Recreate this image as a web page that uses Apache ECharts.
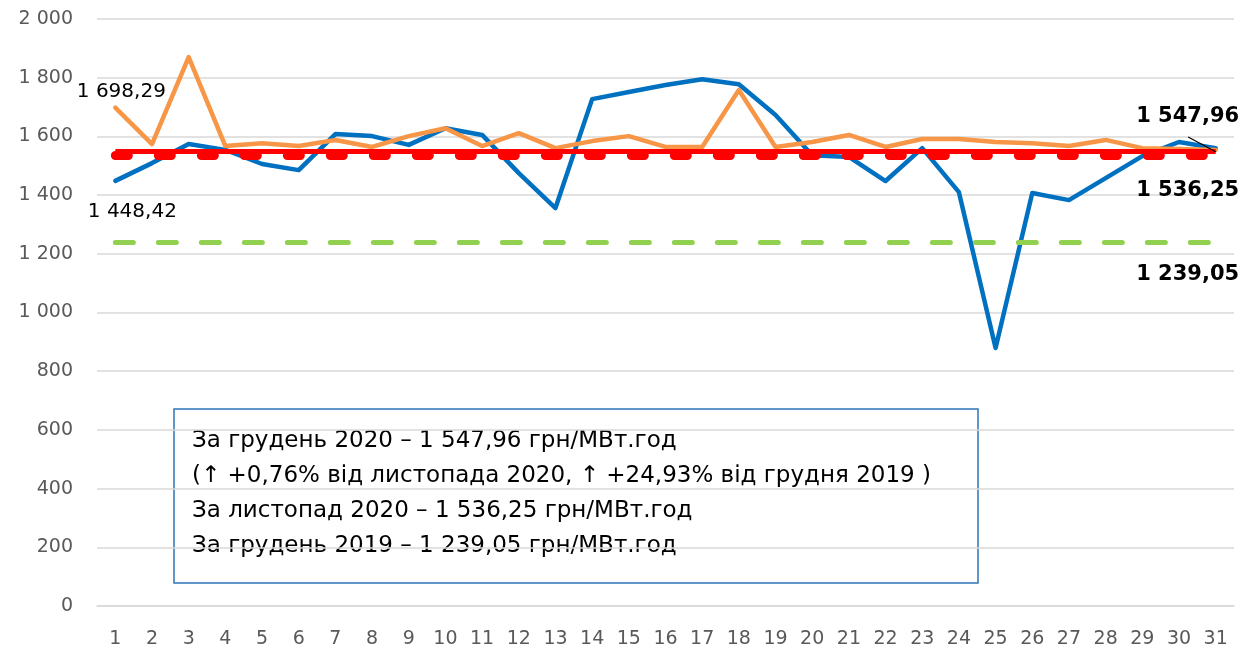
<!DOCTYPE html>
<html>
<head>
<meta charset="utf-8">
<script src="https://cdn.jsdelivr.net/npm/echarts@6/dist/echarts.min.js"></script>
<style>
  html, body { margin: 0; padding: 0; background: #fff; }
  #chart { width: 1247px; height: 652px; }
</style>
</head>
<body>
<div id="chart"></div>
<script>
const days = ['1','2','3','4','5','6','7','8','9','10','11','12','13','14','15','16',
  '17','18','19','20','21','22','23','24','25','26','27','28','29','30','31']

// blue line
const rdn = [1448.42, 1509, 1574, 1554, 1506, 1485, 1608, 1601, 1571, 1628, 1605, 1475,
  1356, 1727, 1751, 1775, 1795, 1778, 1673, 1536, 1530, 1448, 1560, 1410, 879, 1407,
  1383, 1458, 1533, 1581, 1560]

// orange line
const vdr = [1698.29, 1574, 1870, 1567, 1577, 1567, 1588, 1564, 1601, 1628, 1567, 1611,
  1560, 1584, 1601, 1564, 1564, 1758, 1564, 1581, 1605, 1564, 1591, 1591, 1581, 1577,
  1567, 1588, 1560, 1557, 1554]

const avgDec2020 = 1547.96
const avgNov2020 = 1536.25
const avgDec2019 = 1239.05

// short pointer from the "1 547,96" label to the last point
const leader = [[29.25, 1598], [30, 1548]]

const yTicks = { min: 0, max: 2000, interval: 200 }

const boxLines = [
  'За грудень 2020 – 1 547,96 грн/МВт.год',
  '(↑ +0,76% від листопада 2020, ↑ +24,93% від грудня 2019 )',
  'За листопад 2020 – 1 536,25 грн/МВт.год',
  'За грудень 2019 – 1 239,05 грн/МВт.год'
]

const FONT = 'DejaVu Sans'

function fmt(v) {
  const parts = v.toFixed(2).split('.')
  const int = parts[0].replace(/\B(?=(\d{3})+(?!\d))/g, ' ')
  return int + ',' + parts[1]
}

function fmtTick(v) {
  return String(v).replace(/\B(?=(\d{3})+(?!\d))/g, ' ')
}

function firstLabel(arr, labelOpts) {
  return arr.map((v, i) => i === 0 ? { value: v, label: Object.assign({
    show: true, formatter: p => fmt(p.value), color: '#000', fontSize: 20, fontFamily: FONT
  }, labelOpts) } : v)
}

function avgLine(v, style) {
  return [
    { coord: ['1', v], lineStyle: style },
    { coord: ['31', v] }
  ]
}

function avgLabel(v, offset) {
  return {
    coord: ['31', v],
    symbolSize: 0,
    label: {
      show: true, position: 'inside', offset: offset, formatter: fmt(v),
      color: '#000', fontSize: 21, fontWeight: 'bold', fontFamily: FONT
    }
  }
}

const chart = echarts.init(document.getElementById('chart'))

chart.setOption({
  animation: false,
  grid: { left: 97, right: 13, top: 19, bottom: 46 },
  xAxis: [
    {
      type: 'category',
      data: days,
      boundaryGap: true,
      axisLine: { lineStyle: { color: '#D9D9D9', width: 1.5 } },
      axisTick: { show: false },
      axisLabel: { color: '#595959', fontSize: 19, fontFamily: FONT, margin: 24 }
    },
    { type: 'value', min: -0.5, max: 30.5, show: false }
  ],
  yAxis: {
    type: 'value',
    min: yTicks.min,
    max: yTicks.max,
    interval: yTicks.interval,
    axisLine: { show: false },
    axisTick: { show: false },
    splitLine: { lineStyle: { color: '#D9D9D9', width: 1.5 } },
    axisLabel: { color: '#595959', fontSize: 19, fontFamily: FONT, margin: 24, formatter: fmtTick }
  },
  series: [
    {
      type: 'line',
      data: firstLabel(rdn, { position: 'bottom', distance: 10, offset: [17, 11] }),
      symbol: 'circle',
      symbolSize: 0,
      showSymbol: true,
      lineStyle: { color: '#0070C0', width: 4.5, cap: 'round', join: 'round' },
      itemStyle: { color: '#0070C0' },
      z: 2
    },
    {
      type: 'line',
      data: firstLabel(vdr, { position: 'top', distance: 6, offset: [6, 0] }),
      symbol: 'circle',
      symbolSize: 0,
      showSymbol: true,
      lineStyle: { color: '#F79646', width: 4.5, cap: 'round', join: 'round' },
      itemStyle: { color: '#F79646' },
      z: 3
    },
    {
      type: 'line',
      data: [],
      z: 4,
      markLine: {
        silent: true,
        symbol: ['none', 'none'],
        label: { show: false },
        data: [
          avgLine(avgDec2019, { color: '#92D050', width: 5, type: [18, 25], cap: 'round' }),
          avgLine(avgNov2020, { color: '#FF0000', width: 9, type: [13, 30], cap: 'round' }),
          avgLine(avgDec2020, { color: '#FF0000', width: 5, type: 'solid' })
        ]
      },
      markPoint: {
        silent: true,
        symbol: 'circle',
        data: [
          avgLabel(avgDec2020, [-28, -35]),
          avgLabel(avgNov2020, [-28, 35]),
          avgLabel(avgDec2019, [-28, 32])
        ]
      }
    },
    {
      type: 'line',
      xAxisIndex: 1,
      data: leader,
      symbol: 'none',
      lineStyle: { color: '#000', width: 1.2 },
      z: 5
    }
  ],
  graphic: [
    {
      type: 'rect',
      shape: { x: 174, y: 409, width: 804, height: 174 },
      style: { fill: 'none', stroke: '#2E75B6', lineWidth: 1.5 }
    },
    {
      type: 'text',
      x: 192,
      y: 424,
      style: {
        text: boxLines.join('\n'),
        font: '23px "DejaVu Sans"',
        lineHeight: 35,
        fill: '#000'
      }
    }
  ]
})
</script>
</body>
</html>
